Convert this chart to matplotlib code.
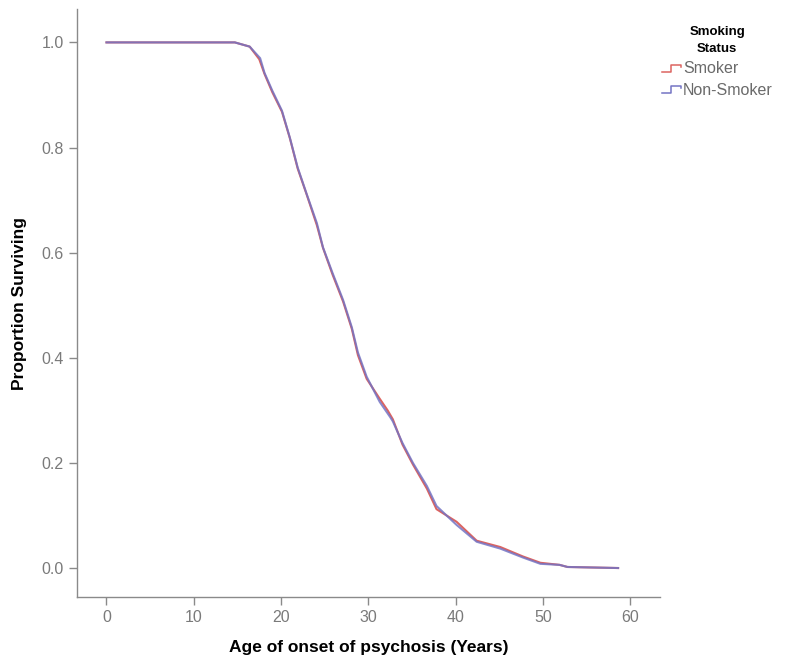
import numpy as np
import matplotlib
matplotlib.use('Agg')
from matplotlib import pyplot as plt
from matplotlib.legend_handler import HandlerBase
from matplotlib.lines import Line2D

plt.rcParams['font.family'] = ['Liberation Sans', 'DejaVu Sans']

# Kaplan-Meier style survival estimates
smoker_age = [0, 14.7, 16.4, 17.5, 18.1, 19.0, 20.1, 21.0, 21.9, 22.9, 24.1, 24.8,
              25.9, 27.1, 28.1, 28.8, 29.8, 31.3, 32.2, 32.8, 33.9, 35.1, 36.7,
              37.8, 40.1, 42.4, 45.1, 47.7, 49.7, 51.9, 52.8, 58.6]
smoker_surv = [1.0, 1.0, 0.992, 0.968, 0.940, 0.905, 0.868, 0.818, 0.760, 0.712, 0.652, 0.609,
               0.558, 0.507, 0.455, 0.405, 0.360, 0.322, 0.300, 0.283, 0.235, 0.197, 0.151,
               0.112, 0.088, 0.052, 0.040, 0.022, 0.010, 0.006, 0.002, 0.0]

nonsmoker_age = [0, 14.7, 16.4, 17.6, 18.1, 19.0, 20.1, 21.0, 21.9, 22.9, 24.1, 24.8,
                 25.9, 27.1, 28.1, 28.8, 29.8, 31.3, 32.5, 32.8, 33.9, 35.1, 36.7,
                 37.8, 40.1, 42.4, 45.1, 47.7, 49.7, 51.9, 52.8, 58.6]
nonsmoker_surv = [1.0, 1.0, 0.992, 0.970, 0.942, 0.908, 0.870, 0.819, 0.762, 0.713, 0.656, 0.610,
                  0.561, 0.510, 0.458, 0.410, 0.364, 0.316, 0.287, 0.279, 0.238, 0.200, 0.156,
                  0.118, 0.082, 0.050, 0.037, 0.020, 0.008, 0.006, 0.002, 0.0]

group_names = ['Smoker', 'Non-Smoker']
group_colours = ['#dc6461', '#7474c4']


class StepHandler(HandlerBase):
    # little staircase icon like the SPSS legend
    def create_artists(self, legend, orig_handle, xdescent, ydescent,
                       width, height, fontsize, trans):
        w, h = width, height
        x0 = -xdescent
        xs = [x0, x0 + w * 0.45, x0 + w * 0.45, x0 + w * 0.95, x0 + w * 0.95]
        ys = [h * 0.1, h * 0.1, h * 0.75, h * 0.75, h * 0.55]
        ln = Line2D(xs, ys, color=orig_handle.get_color(), lw=1.1, transform=trans)
        return [ln]


fig = plt.figure(figsize=(8, 6.64), dpi=100)
ax = fig.add_axes([0.096, 0.101, 0.729, 0.885])

l1, = ax.plot(smoker_age, smoker_surv, color=group_colours[0], lw=1.5, label=group_names[0])
l2, = ax.plot(nonsmoker_age, nonsmoker_surv, color=group_colours[1], lw=1.5, alpha=0.85,
              label=group_names[1])

ax.set_xlim(-3.4, 63.4)
ax.set_ylim(-0.055, 1.063)
ax.set_xticks([0, 10, 20, 30, 40, 50, 60])
ax.set_yticks([0.0, 0.2, 0.4, 0.6, 0.8, 1.0])
ax.set_yticklabels(['0.0', '0.2', '0.4', '0.6', '0.8', '1.0'])

for s in ['top', 'right']:
    ax.spines[s].set_visible(False)
for s in ['left', 'bottom']:
    ax.spines[s].set_color('#8a8a8a')
    ax.spines[s].set_linewidth(1.0)
ax.tick_params(direction='out', length=6, width=1, color='#8a8a8a',
               labelcolor='#7a7a7a', labelsize=11.5)

ax.set_xlabel('Age of onset of psychosis (Years)', fontsize=12.5, fontweight='bold', labelpad=11)
ax.set_ylabel('Proportion Surviving', fontsize=12.5, fontweight='bold', labelpad=10)

leg = fig.legend(handles=[l1, l2], loc='upper left', bbox_to_anchor=(0.813, 0.978),
                 frameon=False, title='Smoking\nStatus', fontsize=11.5,
                 handler_map={Line2D: StepHandler()}, handlelength=1.3,
                 handletextpad=0.05, labelspacing=0.4, borderpad=0.2)
leg.get_title().set_fontweight('bold')
leg.get_title().set_fontsize(9.5)
leg.get_title().set_multialignment('center')
leg.get_title().set_linespacing(1.55)
for t in leg.get_texts():
    t.set_color('#6a6a6a')

plt.savefig('out.png', dpi=100)
